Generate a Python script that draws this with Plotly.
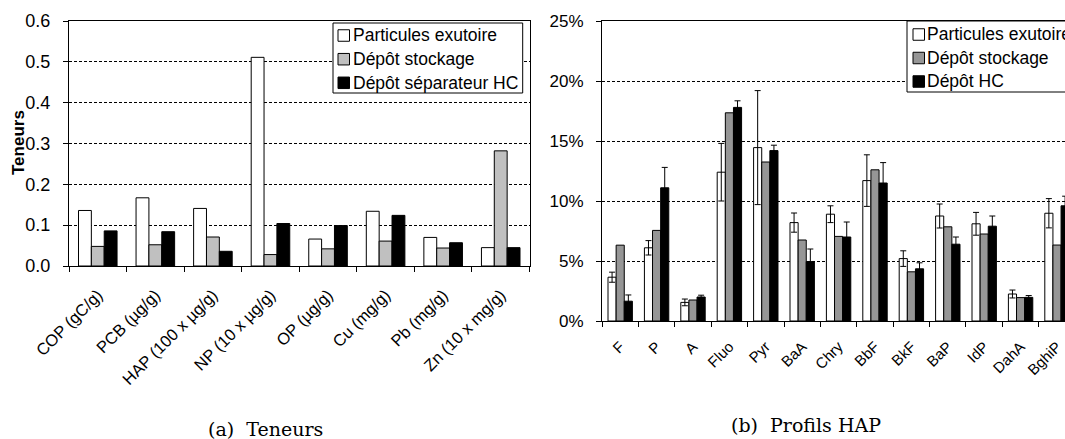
import plotly.graph_objects as go

# (a) Teneurs
cats_a = ["COP (gC/g)", "PCB (µg/g)", "HAP (100 x µg/g)", "NP (10 x µg/g)",
          "OP (µg/g)", "Cu (mg/g)", "Pb (mg/g)", "Zn (10 x mg/g)"]
exutoire_a = [0.136, 0.167, 0.141, 0.511, 0.066, 0.134, 0.070, 0.045]
stockage_a = [0.048, 0.052, 0.071, 0.028, 0.042, 0.061, 0.044, 0.282]
separateur_a = [0.086, 0.084, 0.036, 0.104, 0.099, 0.124, 0.057, 0.045]
names_a = ["Particules exutoire", "Dépôt stockage", "Dépôt séparateur HC"]

# (b) Profils HAP, in %
cats_b = ["F", "P", "A", "Fluo", "Pyr", "BaA", "Chry", "BbF", "BkF", "BaP",
          "IdP", "DahA", "BghiP"]
exutoire_b = [3.65, 6.1, 1.55, 12.4, 14.45, 8.2, 8.9, 11.7, 5.2, 8.75, 8.1, 2.25, 8.98]
exutoire_err = [0.42, 0.6, 0.28, 2.4, 4.75, 0.8, 0.7, 2.15, 0.65, 1.0, 0.95, 0.33, 1.22]
stockage_b = [6.32, 7.55, 1.75, 17.35, 13.25, 6.75, 7.05, 12.6, 4.1, 7.85, 7.25, 1.95, 6.33]
hc_b = [1.65, 11.1, 2.0, 17.8, 14.2, 4.95, 7.0, 11.5, 4.35, 6.4, 7.9, 1.97, 9.6]
hc_err = [0.52, 1.7, 0.15, 0.55, 0.45, 1.05, 1.25, 1.7, 0.5, 0.6, 0.85, 0.15, 0.8]
names_b = ["Particules exutoire", "Dépôt stockage", "Dépôt HC"]

colors_a = ["white", "#c0c0c0", "black"]
colors_b = ["white", "#969696", "black"]

W, H = 1065, 439


def px(x):
    return x / W


def py(y):
    return 1 - y / H


sans = "Liberation Sans, Arial, sans-serif"
line = dict(color="black", width=1)
err = dict(type="data", visible=True, color="black", thickness=1, width=3)

fig = go.Figure()

for name, vals, col in zip(names_a, [exutoire_a, stockage_a, separateur_a], colors_a):
    fig.add_trace(go.Bar(x=cats_a, y=vals, name=name, showlegend=False,
                         marker=dict(color=col, line=line), xaxis="x", yaxis="y"))

errs_b = [exutoire_err, None, hc_err]
for name, vals, col, e in zip(names_b, [exutoire_b, stockage_b, hc_b], colors_b, errs_b):
    fig.add_trace(go.Bar(x=cats_b, y=vals, name=name, showlegend=False,
                         error_y=dict(err, array=e) if e else None,
                         marker=dict(color=col, line=line), xaxis="x2", yaxis="y2"))

xcommon = dict(showline=True, linecolor="black", linewidth=1, ticks="outside",
               tickson="boundaries", ticklen=5, tickcolor="black", tickangle=-45,
               showgrid=False, mirror=True)
ycommon = dict(showline=True, linecolor="black", linewidth=1, ticks="outside",
               ticklen=5, tickcolor="black", showgrid=True, gridcolor="black",
               gridwidth=1, griddash="3px,2px", zeroline=False, ticklabelstandoff=9)

# hand-drawn legends (box, square swatches, labels)
shapes, annotations = [], []


def add_legend(box, sym_x, text_x, rows, names, colors):
    x0, x1, y0, y1 = box
    shapes.append(dict(type="rect", xref="paper", yref="paper", x0=px(x0), x1=px(x1),
                       y0=py(y1), y1=py(y0), fillcolor="white", line=line, layer="above"))
    for yc, name, col in zip(rows, names, colors):
        shapes.append(dict(type="rect", xref="paper", yref="paper",
                           x0=px(sym_x), x1=px(sym_x + 11.5), y0=py(yc + 5.75), y1=py(yc - 5.75),
                           fillcolor=col, line=line, layer="above"))
        annotations.append(dict(text=name, x=px(text_x), y=py(yc), xref="paper", yref="paper",
                                showarrow=False, xanchor="left", yanchor="middle",
                                font=dict(family=sans, size=17.5, color="black")))


add_legend((333, 522.7, 23, 93), 338, 351, [35.5, 59.2, 82.8], names_a, colors_a)
add_legend((907, 1090, 21, 92), 913, 925, [34.5, 58, 81.5], names_b, colors_b)

# y title of the left chart
annotations.append(dict(text="<b>Teneurs</b>", x=px(18), y=py(142), xref="paper", yref="paper",
                        showarrow=False, textangle=-90, xanchor="center", yanchor="middle",
                        font=dict(family=sans, size=17, color="black")))

serif = dict(family="DejaVu Serif, serif", size=19, color="black")
annotations.append(dict(text="(a)\u00a0\u00a0Teneurs", x=px(265), y=py(429), xref="paper",
                        yref="paper", showarrow=False, xanchor="center", yanchor="middle",
                        font=serif))
annotations.append(dict(text="(b)\u00a0\u00a0Profils\u00a0HAP", x=px(806), y=py(425),
                        xref="paper", yref="paper", showarrow=False, xanchor="center",
                        yanchor="middle", font=serif))

fig.update_layout(
    width=W, height=H,
    margin=dict(l=0, r=0, t=0, b=0, autoexpand=False),
    paper_bgcolor="white", plot_bgcolor="white",
    barmode="group", bargap=0.33, bargroupgap=0,
    xaxis=dict(xcommon, domain=[px(69), px(529.5)], anchor="y", range=[-0.5, 7.5],
               ticklabelstandoff=12,
               tickfont=dict(family=sans, size=16.5, color="black")),
    yaxis=dict(ycommon, domain=[py(266), py(21)], anchor="x",
               range=[0, 0.6], dtick=0.1, tickformat=".1f", mirror=True,
               tickfont=dict(family=sans, size=18, color="black")),
    xaxis2=dict(xcommon, domain=[px(602), 1.0], anchor="y2", range=[-0.5, 12.22],
                ticklabelstandoff=10,
                tickfont=dict(family=sans, size=15, color="black")),
    yaxis2=dict(ycommon, domain=[py(321), py(21)], anchor="x2",
                range=[0, 25], dtick=5, ticksuffix="%",
                tickfont=dict(family=sans, size=17, color="black")),
    shapes=shapes,
    annotations=annotations,
)

# drop the default page margin so the figure fills the 1065x439 window
fig.write_html("out.html", config={"displayModeBar": False},
               post_script="document.body.style.margin='0';document.body.style.overflow='hidden';")
